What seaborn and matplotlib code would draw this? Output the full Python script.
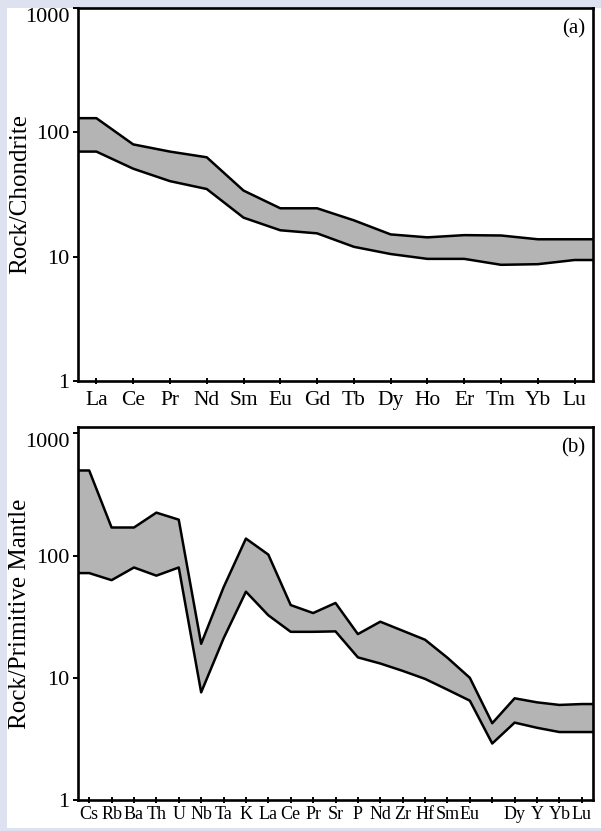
import numpy as np
import pandas as pd
import matplotlib
matplotlib.use("Agg")
import matplotlib.pyplot as plt
from matplotlib.patches import Rectangle
from matplotlib.ticker import NullLocator
import seaborn as sns

sns.set_theme(style="ticks")
plt.rcParams["font.family"] = ["Liberation Serif", "DejaVu Serif"]

# (a) chondrite-normalised REE band
ree_elements = ["La", "Ce", "Pr", "Nd", "Sm", "Eu", "Gd", "Tb", "Dy", "Ho", "Er", "Tm", "Yb", "Lu"]
ree_upper = [130, 80, 70, 63, 34, 24.5, 24.5, 19.6, 15.1, 14.3, 14.9, 14.8, 13.8, 13.8]
ree_lower = [70, 51, 40.5, 35, 20.6, 16.3, 15.4, 12.0, 10.5, 9.6, 9.6, 8.6, 8.7, 9.4]

# (b) primitive-mantle-normalised spider band (Ti has no label)
spider_elements = ["Cs", "Rb", "Ba", "Th", "U", "Nb", "Ta", "K", "La", "Ce", "Pr", "Sr",
                   "P", "Nd", "Zr", "Hf", "Sm", "Eu", "Ti", "Dy", "Y", "Yb", "Lu"]
spider_labels = ["Cs", "Rb", "Ba", "Th", "U", "Nb", "Ta", "K", "La", "Ce", "Pr", "Sr",
                 "P", "Nd", "Zr", "Hf", "Sm", "Eu", "", "Dy", "Y", "Yb", "Lu"]
spider_upper = [498, 170, 170, 225, 197, 19.0, 55, 138, 102, 39.4, 33.9, 41, 22.8,
                28.8, 24.3, 20.5, 14.6, 10.0, 4.25, 6.8, 6.3, 6.0, 6.1]
spider_lower = [72, 63, 80, 68.6, 80, 7.6, 21, 50.7, 32.5, 23.8, 23.8, 24.0, 14.7,
                13.1, 11.4, 9.8, 8.0, 6.5, 2.9, 4.3, 3.9, 3.6, 3.6]

W, H = 601, 831
fig = plt.figure(figsize=(W / 100, H / 100), dpi=100)
fig.patch.set_facecolor("#dde1f0")
fig.add_artist(Rectangle((7 / W, 3 / H), (W - 7) / W, (H - 11) / H,
                         transform=fig.transFigure, facecolor="white",
                         edgecolor="none", zorder=-5))

ax_a = fig.add_axes([78 / W, 1 - 381 / H, 515 / W, 373 / H])
ax_b = fig.add_axes([78 / W, 1 - 800 / H, 515 / W, 373 / H])


def draw_band(ax, elements, labels, upper, lower, ylabel, tag, ytop, xsize, xpad):
    n = len(elements)
    df = pd.DataFrame({"pos": np.arange(n), "upper": upper, "lower": lower})
    # band runs flat out to the frame on both sides
    xe = np.r_[-0.5, df["pos"], n - 0.5]
    up = np.r_[df["upper"].iloc[0], df["upper"], df["upper"].iloc[-1]]
    lo = np.r_[df["lower"].iloc[0], df["lower"], df["lower"].iloc[-1]]

    ax.set_yscale("log")
    ax.fill_between(xe, lo, up, color="#b4b4b4", lw=0, zorder=1)
    sns.lineplot(x=xe, y=up, ax=ax, color="black", lw=1.8, sort=False, zorder=2)
    sns.lineplot(x=xe, y=lo, ax=ax, color="black", lw=1.8, sort=False, zorder=2)

    ax.set_xlim(-0.5, n - 0.5)
    ax.set_ylim(1, ytop)
    ax.set_xticks(np.arange(n))
    ax.set_xticklabels(labels, fontsize=xsize)
    ax.set_yticks([1, 10, 100, 1000])
    ax.set_yticklabels(["1", "10", "100", "1000"], fontsize=16)
    ax.yaxis.set_minor_locator(NullLocator())
    ax.tick_params(axis="x", direction="inout", length=5, width=1.4, pad=xpad, colors="black")
    ax.tick_params(axis="y", direction="out", length=3.6, width=1.4, pad=2.5, colors="black")
    ax.yaxis.get_major_ticks()[-1].label1.set_verticalalignment("top")
    for s in ax.spines.values():
        s.set_visible(True)
        s.set_linewidth(1.9)
        s.set_color("black")
    ax.set_facecolor("white")
    ax.set_xlabel("")
    ax.set_ylabel(ylabel, fontsize=18, color="black", va="center")
    ax.yaxis.set_label_coords(-58 / 515, 0.5)
    ax.text(0.984, 0.944, tag, transform=ax.transAxes, ha="right", va="center",
            fontsize=15, color="black")


draw_band(ax_a, ree_elements, ree_elements, ree_upper, ree_lower,
          "Rock/Chondrite", "(a)", 1000, 15.5, 4.5)
draw_band(ax_b, spider_elements, spider_labels, spider_upper, spider_lower,
          "Rock/Primitive Mantle", "(b)", 1130, 13, 1.5)

fig.savefig("out.png", dpi=100, facecolor=fig.get_facecolor())
